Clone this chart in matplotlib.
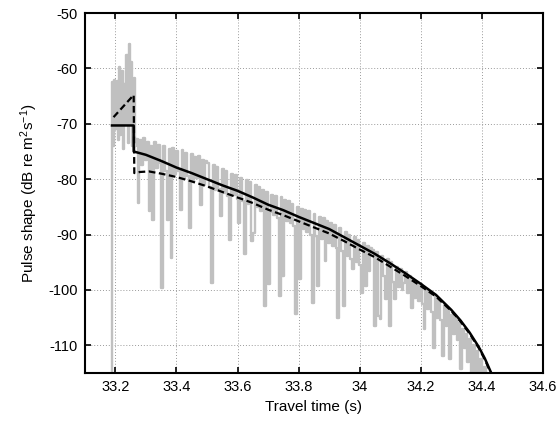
import numpy as np
import matplotlib
matplotlib.use("Agg")
import matplotlib.pyplot as plt

plt.rcParams['font.family'] = ['Liberation Sans', 'DejaVu Sans']
plt.rcParams['mathtext.default'] = 'regular'

# ---- data ----
# gray measured signal: head part (explicit times)
head_t = [33.186, 33.190, 33.194, 33.198, 33.202, 33.206, 33.210, 33.214, 33.218,
          33.222, 33.226, 33.230, 33.234, 33.238, 33.242, 33.246, 33.250, 33.254,
          33.258, 33.262]
head_v = [-130, -62.5, -74.0, -62.0, -71.0, -62.3, -73.0, -59.8, -72.0,
          -60.5, -74.5, -62.8, -70.0, -57.5, -73.5, -55.6, -70.0, -58.8,
          -74.0, -61.7]

# gray measured signal: main decay, sampled every 0.006 s from 33.264
main_t0 = 33.264
main_dt = 0.006
main_v = [
    -74.0, -72.8, -84.3, -73.0, -77.5, -72.6, -76.5, -73.2, -85.8, -74.0,
    -87.3, -73.2, -78.0, -73.8, -77.0, -99.6, -74.0, -78.5, -87.3, -74.5,
    -94.2, -74.3, -79.0, -75.0, -78.5, -85.5, -74.8, -80.0, -75.3, -79.5,
    -88.8, -75.5, -80.5, -76.0, -79.8, -75.8, -84.6, -76.5, -81.0, -76.8,
    -77.0, -81.5, -98.7, -77.5, -82.0, -77.8, -81.8, -86.7, -78.2, -82.5,
    -78.5, -83.0, -90.9, -79.0, -82.8, -79.3, -83.5, -87.9, -79.8, -84.0,
    -93.6, -80.2, -84.5, -80.5, -91.2, -89.7, -81.0, -85.0, -81.5, -85.8,
    -82.0, -102.9, -82.3, -99.0, -86.0, -82.8, -86.5, -83.0, -87.0, -101.1,
    -83.3, -97.5, -83.8, -87.5, -84.0, -88.0, -84.5, -88.5, -104.4, -85.0,
    -98.1, -85.3, -89.0, -85.5, -89.5, -85.8, -90.0, -102.3, -86.3, -90.3,
    -99.3, -86.8, -90.8, -87.0, -94.8, -87.5, -91.5, -88.0, -92.0, -88.3,
    -92.5, -105.0, -88.8, -93.0, -102.9, -89.5, -93.8, -90.0, -94.5, -96.3,
    -90.5, -95.0, -91.0, -95.5, -100.5, -91.5, -99.3, -92.0, -96.5, -92.5,
    -92.8, -106.5, -93.2, -104.7, -105.3, -93.8, -97.5, -101.7, -94.5, -106.5,
    -95.0, -98.5, -101.7, -95.8, -99.5, -96.3, -100.0, -98.7, -96.8, -100.5,
    -97.5, -103.2, -98.0, -101.5, -98.5, -102.0, -99.0, -102.5, -107.1, -99.8,
    -103.5, -100.3, -104.0, -110.4, -101.0, -105.0, -101.8, -105.5, -111.9, -102.8,
    -106.5, -103.5, -112.5, -104.5, -108.0, -105.0, -109.0, -106.0, -114.3, -107.0,
    -110.5, -108.0, -113.0, -108.8, -116.0, -110.0, -115.5, -111.0, -117.0, -112.5,
    -118.0, -114.0, -119.0, -116.0, -120.0,
]

# solid black model curve
solid_t = [33.189, 33.260, 33.260, 33.30, 33.35, 33.40, 33.45, 33.50, 33.55, 33.60,
           33.65, 33.70, 33.75, 33.80, 33.85, 33.90, 33.95, 34.00, 34.05, 34.10,
           34.15, 34.20, 34.25, 34.30, 34.33, 34.36, 34.39, 34.41, 34.43, 34.44]
solid_v = [-70.3, -70.3, -75.0, -75.6, -76.7, -77.9, -78.9, -80.0, -81.1, -82.1,
           -83.3, -84.6, -85.6, -86.8, -87.9, -89.0, -90.5, -92.0, -93.5, -95.2,
           -97.0, -98.9, -100.9, -103.6, -105.5, -107.7, -110.3, -112.4, -114.9, -116.3]

# dashed black model curve
dash_t = [33.194, 33.260, 33.262, 33.28, 33.31, 33.35, 33.40, 33.45, 33.50, 33.55,
          33.60, 33.65, 33.70, 33.75, 33.80, 33.85, 33.90, 33.95, 34.00, 34.05,
          34.10, 34.15, 34.20, 34.25, 34.30, 34.33, 34.36, 34.39, 34.41, 34.43, 34.44]
dash_v = [-68.8, -64.8, -78.9, -78.7, -78.6, -79.0, -79.6, -80.4, -81.3, -82.3,
          -83.3, -84.3, -85.5, -86.5, -87.6, -88.7, -89.8, -91.2, -92.7, -94.1,
          -95.8, -97.5, -99.3, -101.2, -103.8, -105.7, -107.9, -110.5, -112.6, -115.1, -116.5]

xticks = [33.2, 33.4, 33.6, 33.8, 34.0, 34.2, 34.4, 34.6]
xtick_labels = ["33.2", "33.4", "33.6", "33.8", "34", "34.2", "34.4", "34.6"]
yticks = [-110, -100, -90, -80, -70, -60, -50]
ytick_labels = ["-110", "-100", "-90", "-80", "-70", "-60", "-50"]

# ---- figure ----
fig = plt.figure(figsize=(5.58, 4.21), dpi=100)
ax = fig.add_axes([0.152, 0.114, 0.821, 0.855])

main_t = main_t0 + main_dt * np.arange(len(main_v))
gray_t = np.concatenate([head_t, main_t])
gray_v = np.concatenate([head_v, main_v])

ax.plot(gray_t, gray_v, color='#c0c0c0', lw=1.7, drawstyle='steps-mid', zorder=2)
ax.plot(solid_t, solid_v, color='black', lw=1.8, zorder=3)
ax.plot(dash_t, dash_v, color='black', lw=1.6, ls=(0, (3, 1.6)), zorder=4)

ax.set_xlim(33.1, 34.6)
ax.set_ylim(-115, -50)
ax.set_xticks(xticks)
ax.set_xticklabels(xtick_labels)
ax.set_yticks(yticks)
ax.set_yticklabels(ytick_labels)

ax.grid(True, color='#9a9a9a', ls=(0, (1, 2)), lw=0.7)
ax.set_axisbelow(True)
ax.tick_params(direction='in', length=4, width=1.2, top=True, right=True,
               labelsize=10.5, pad=5)
for s in ax.spines.values():
    s.set_linewidth(1.5)

ax.set_xlabel("Travel time (s)", fontsize=11, labelpad=4)
ax.set_ylabel("Pulse shape (dB re m$^{2}$s$^{-1}$)", fontsize=11, labelpad=6)

fig.savefig("out.png", dpi=100)
